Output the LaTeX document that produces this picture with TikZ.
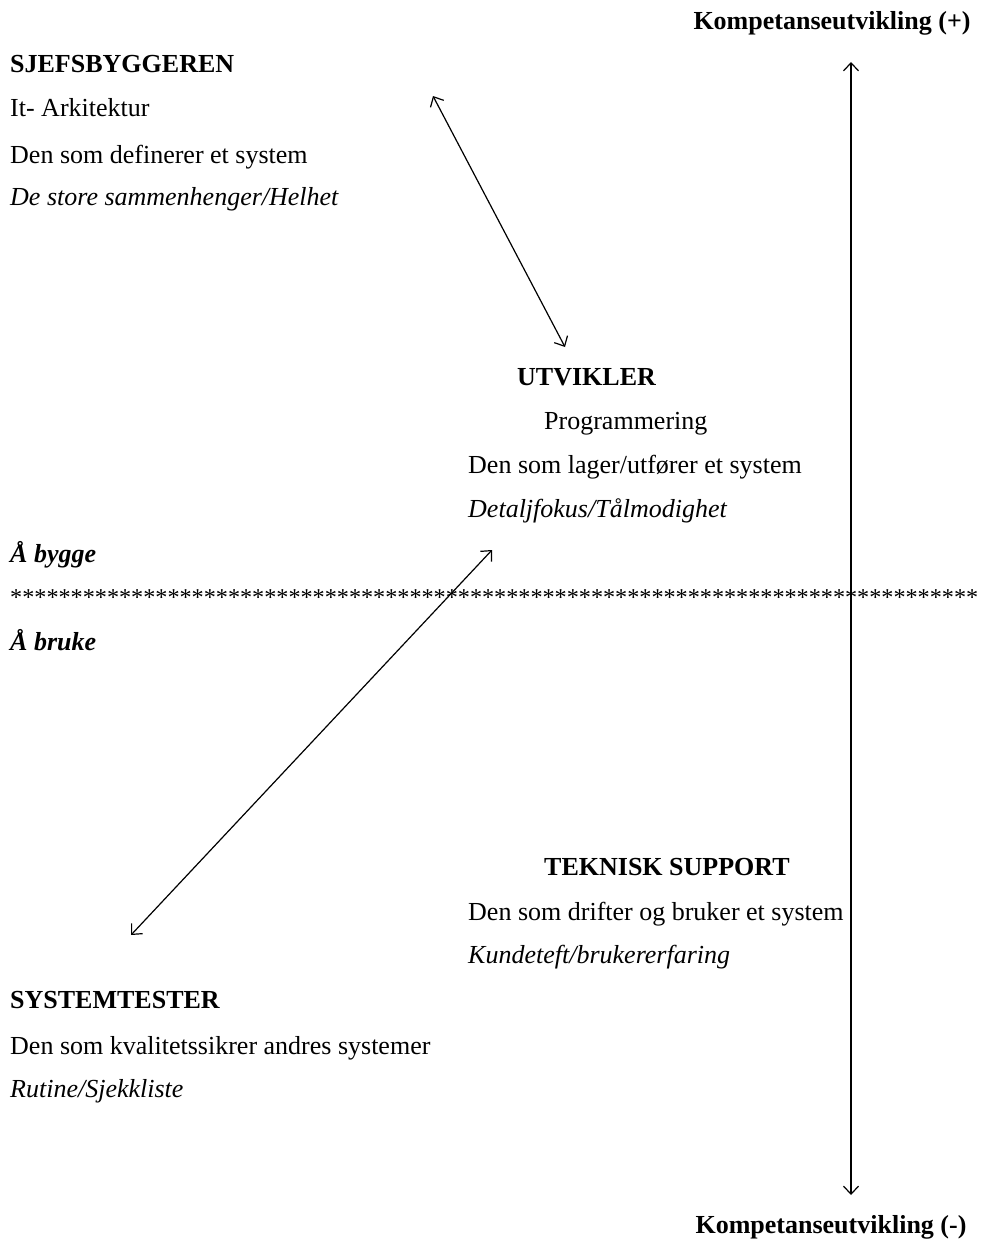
\documentclass[tikz,border=0pt]{standalone}
\usepackage{fontspec}
\setmainfont{Liberation Serif}
\usetikzlibrary{arrows.meta}
\tikzset{
  tekst/.style={anchor=base west,inner sep=0pt,font=\fontsize{26}{31}\selectfont},
  tittel/.style={tekst,font=\fontsize{26}{31}\selectfont\bfseries},
  pil/.style={line width=1.2pt,
    {Straight Barb[length=8pt,width=15pt]}-{Straight Barb[length=8pt,width=15pt]}}
}

\begin{document}
\begin{tikzpicture}[x=1pt,y=-1pt]
\useasboundingbox (0,0) rectangle (983,1239);

% akse for kompetanse
\node[tittel,anchor=base] (kompPluss) at (832,30) {Kompetanseutvikling (+)};
\node[tittel,anchor=base] (kompMinus) at (831,1233) {Kompetanseutvikling (-)};
\coordinate (aksetopp) at (851,62);
\coordinate (aksebunn) at (851,1195);

% sjefsbyggeren
\node[tittel] (sjef) at (10,73) {SJEFSBYGGEREN};
\node[tekst] (sjef1) at (10,116) {It- Arkitektur};
\node[tekst] (sjef2) at (10,163) {Den som definerer et system};
\node[tekst] (sjef3) at (10,205) {\itshape De store sammenhenger/Helhet};

% utvikler
\node[tittel] (utv) at (517,385) {UTVIKLER};
\node[tekst] (utv1) at (544,429) {Programmering};
\node[tekst] (utv2) at (468,473) {Den som lager/utfører et system};
\node[tekst] (utv3) at (468,517) {\itshape Detaljfokus/Tålmodighet};

% skillelinje
\node[tittel] (bygge) at (10,562) {\itshape Å bygge};
\node[tekst,font=\fontsize{24.2}{29}\selectfont] (stjerner) at (10,605) {\foreach \s in {1,...,80}{*}};
\node[tittel] (bruke) at (10,650) {\itshape Å bruke};

% teknisk support
\node[tittel] (support) at (544,875) {TEKNISK SUPPORT};
\node[tekst] (support1) at (468,920) {Den som drifter og bruker et system};
\node[tekst] (support2) at (468,963) {\itshape Kundeteft/brukererfaring};

% systemtester
\node[tittel] (tester) at (10,1008) {SYSTEMTESTER};
\node[tekst] (tester1) at (10,1054) {Den som kvalitetssikrer andres systemer};
\node[tekst] (tester2) at (10,1097) {\itshape Rutine/Sjekkliste};

% piler
\coordinate (sjefpil) at (433,96);
\coordinate (utvpilA) at (565,347);
\coordinate (utvpilB) at (492,550);
\coordinate (testerpil) at (131,935);
\draw[pil] (aksetopp) -- (aksebunn);
\draw[pil] (sjefpil) -- (utvpilA);
\draw[pil] (utvpilB) -- (testerpil);
\end{tikzpicture}
\end{document}
